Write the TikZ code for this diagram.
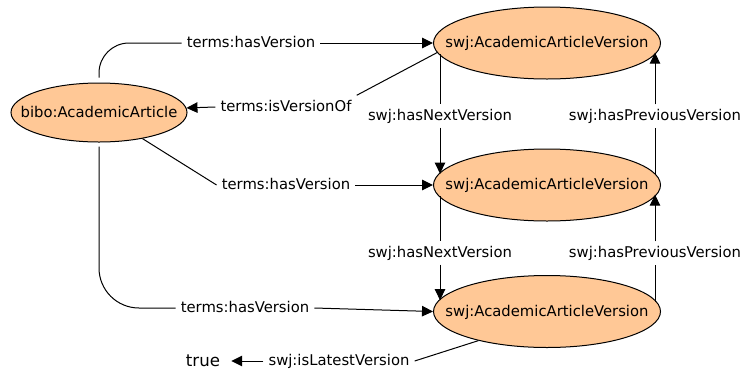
\documentclass[tikz,border=0pt]{standalone}
\usepackage{fontspec}
\setmainfont{DejaVu Sans}
\usetikzlibrary{arrows.meta,shapes.geometric}
\definecolor{peach}{RGB}{255,200,150}
\begin{document}
\begin{tikzpicture}[x=1bp,y=-1bp,
  every node/.style={font=\fontsize{14.8bp}{17bp}\selectfont},
  ver/.style={draw, ellipse, fill=peach, line width=1bp, minimum width=227bp, minimum height=72bp, inner sep=0pt},
  art/.style={draw, ellipse, fill=peach, line width=1bp, minimum width=176bp, minimum height=59bp, inner sep=0pt},
  txt/.style={inner sep=0pt, text height=11bp, text depth=2bp},
  lbl/.style={fill=white, inner xsep=5bp, inner ysep=5bp, text height=11bp, text depth=2bp},
  conn/.style={line width=1bp},
  arr/.style={-{Triangle[length=11bp,width=10.5bp]}}]
\useasboundingbox (0,0) rectangle (744,373);
% class nodes
\node[art] (bibo) at (99,112.5) {};
\node[txt] (bibot) at (bibo) {bibo:AcademicArticle};
\node[ver] (v1) at (547,43) {};
\node[txt] (v1t) at (v1) {swj:AcademicArticleVersion};
\node[ver] (v2) at (547,185) {};
\node[txt] (v2t) at (v2) {swj:AcademicArticleVersion};
\node[ver] (v3) at (547,311.5) {};
\node[txt] (v3t) at (v3) {swj:AcademicArticleVersion};
\node[font=\fontsize{16.6bp}{20bp}\selectfont, inner xsep=11bp] (true) at (203,361) {true};
% labels
\node[lbl] (l1) at (251,43) {terms:hasVersion};
\node[lbl] (l2) at (286,185) {terms:hasVersion};
\node[lbl] (l3) at (245,308) {terms:hasVersion};
\node[lbl] (l4) at (286,107) {terms:isVersionOf};
\node[lbl] (l5) at (440,116) {swj:hasNextVersion};
\node[lbl] (l6) at (440,253) {swj:hasNextVersion};
\node[lbl] (l7) at (655,116) {swj:hasPreviousVersion};
\node[lbl] (l8) at (655,253) {swj:hasPreviousVersion};
\node[lbl] (l9) at (339,361) {swj:isLatestVersion};
% connectors
\draw[conn, rounded corners=30bp, shorten <=5bp] (bibo.north) |- (l1.west);
\draw[conn, arr] (l1.east) -- (v1.west);
\draw[conn] (bibo.-31) -- (l2.west);
\draw[conn, arr] (l2.east) -- (v2.west);
\draw[conn, rounded corners=40bp, shorten <=4bp] (bibo.south) |- (l3.west);
\draw[conn, arr] (l3.east) -- (v3.west);
\draw[conn] (v1.185) -- (l4.north east);
\draw[conn, arr] (l4.west) -- (bibo.3);
\draw[conn] (l5.north |- v1.186) -- (l5.north);
\draw[conn, arr] (l5.south) -- (l5.south |- v2.174);
\draw[conn] (l6.north |- v2.186) -- (l6.north);
\draw[conn, arr] (l6.south) -- (l6.south |- v3.174);
\draw[conn] (l7.south |- v2.5) -- (l7.south);
\draw[conn, arr] (l7.north) -- (l7.north |- v1.-5);
\draw[conn] (l8.south |- v3.5) -- (l8.south);
\draw[conn, arr] (l8.north) -- (l8.north |- v2.-5);
\draw[conn] (v3.203) -- (l9.east);
\draw[conn, arr] (l9.west) -- (true.east);
\end{tikzpicture}
\end{document}
